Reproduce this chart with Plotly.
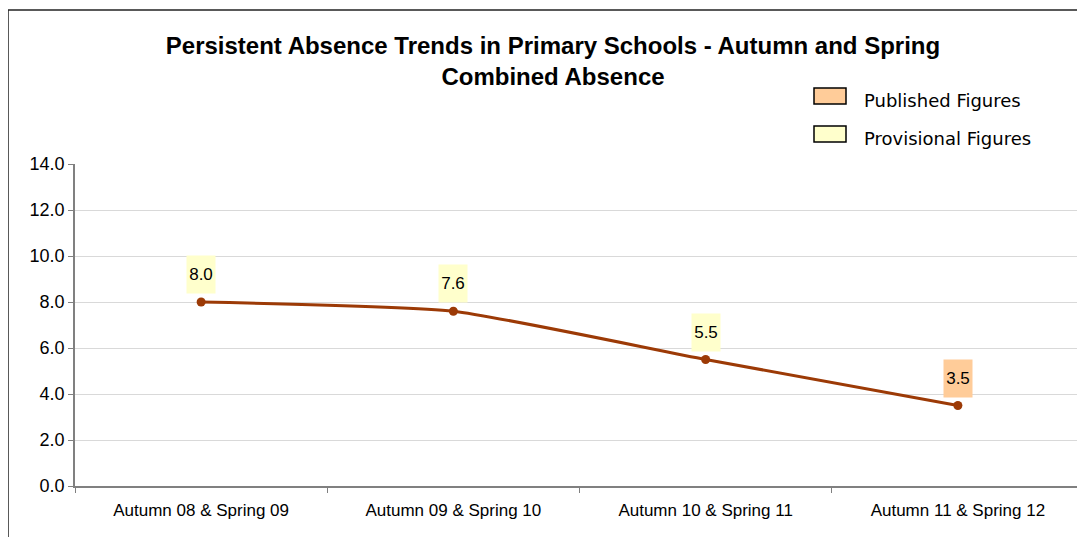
import plotly.graph_objects as go

# data
periods = ["Autumn 08 & Spring 09", "Autumn 09 & Spring 10",
           "Autumn 10 & Spring 11", "Autumn 11 & Spring 12"]
absence = [8.0, 7.6, 5.5, 3.5]
status = ["Provisional", "Provisional", "Provisional", "Published"]

label_colors = {"Published": "#FFCC99", "Provisional": "#FFFFCC"}

# page body adds an 8px offset, so the figure is drawn 8px smaller
OFF = 8
W, H = 1085 - OFF, 537 - OFF
ML, MR, MT, MB = 75 - OFF, 1, 164 - OFF, 51
pw, ph = W - ML - MR, H - MT - MB


def px_x(x):
    return (x - OFF - ML) / pw


def px_y(y):
    return (H - MB - (y - OFF)) / ph


fig = go.Figure()
fig.add_trace(go.Scatter(
    x=periods, y=absence, mode="lines+markers",
    line=dict(color="#9C3A06", width=3, shape="spline", smoothing=0.5),
    marker=dict(color="#9C3A06", size=9),
    showlegend=False, hoverinfo="x+y",
))

# data labels with coloured boxes
for p, v, s in zip(periods, absence, status):
    fig.add_annotation(
        x=p, y=v, text=f"{v:.1f}", showarrow=False,
        yanchor="bottom", yshift=8, width=28, height=37,
        bgcolor=label_colors[s], borderpad=0,
        font=dict(family="Liberation Sans, Arial", size=17, color="black"),
    )

# chart border (left and top edges visible)
fig.add_shape(type="line", xref="paper", yref="paper",
              x0=px_x(8), x1=px_x(8), y0=px_y(10), y1=px_y(560),
              line=dict(color="#222222", width=1.5))
fig.add_shape(type="line", xref="paper", yref="paper",
              x0=px_x(8), x1=px_x(1100), y0=px_y(10), y1=px_y(10),
              line=dict(color="#222222", width=1.5))

# custom legend
legend_items = [("Published Figures", "#FFCC99", 96), ("Provisional Figures", "#FFFFCC", 134)]
for name, col, cy in legend_items:
    fig.add_shape(type="rect", xref="paper", yref="paper",
                  x0=px_x(814), x1=px_x(846), y0=px_y(cy + 8), y1=px_y(cy - 8),
                  fillcolor=col, line=dict(color="black", width=1.5))
    fig.add_annotation(xref="paper", yref="paper", x=px_x(862), y=px_y(cy + 4),
                       xanchor="left", yanchor="middle", showarrow=False, text=name,
                       font=dict(family="DejaVu Sans, Verdana", size=18, color="black"))

fig.update_layout(
    width=W, height=H,
    margin=dict(l=ML, r=MR, t=MT, b=MB),
    paper_bgcolor="white", plot_bgcolor="white",
    title=dict(
        text="<b>Persistent Absence Trends in Primary Schools - Autumn and Spring<br>Combined Absence</b>",
        x=(553 - OFF) / W, xanchor="center", y=1 - (54 - OFF) / H, yanchor="middle",
        font=dict(family="Liberation Sans, Arial", size=24, color="black"),
    ),
    font=dict(family="Liberation Sans, Arial", color="black"),
)
fig.update_xaxes(
    range=[-0.5, 3.5], showgrid=False, showline=True, linecolor="#808080", linewidth=1.5,
    ticks="outside", tickson="boundaries", ticklen=5, tickcolor="#808080",
    tickfont=dict(size=17, color="black"), ticklabelstandoff=8,
)
fig.update_yaxes(
    range=[0, 14], dtick=2, tickformat=".1f", showgrid=True, gridcolor="#D9D9D9",
    showline=True, linecolor="#808080", linewidth=1.5, ticks="outside", ticklen=5,
    tickcolor="#808080", tickfont=dict(size=18, color="black"), zeroline=False,
)

fig.write_html("out.html")
